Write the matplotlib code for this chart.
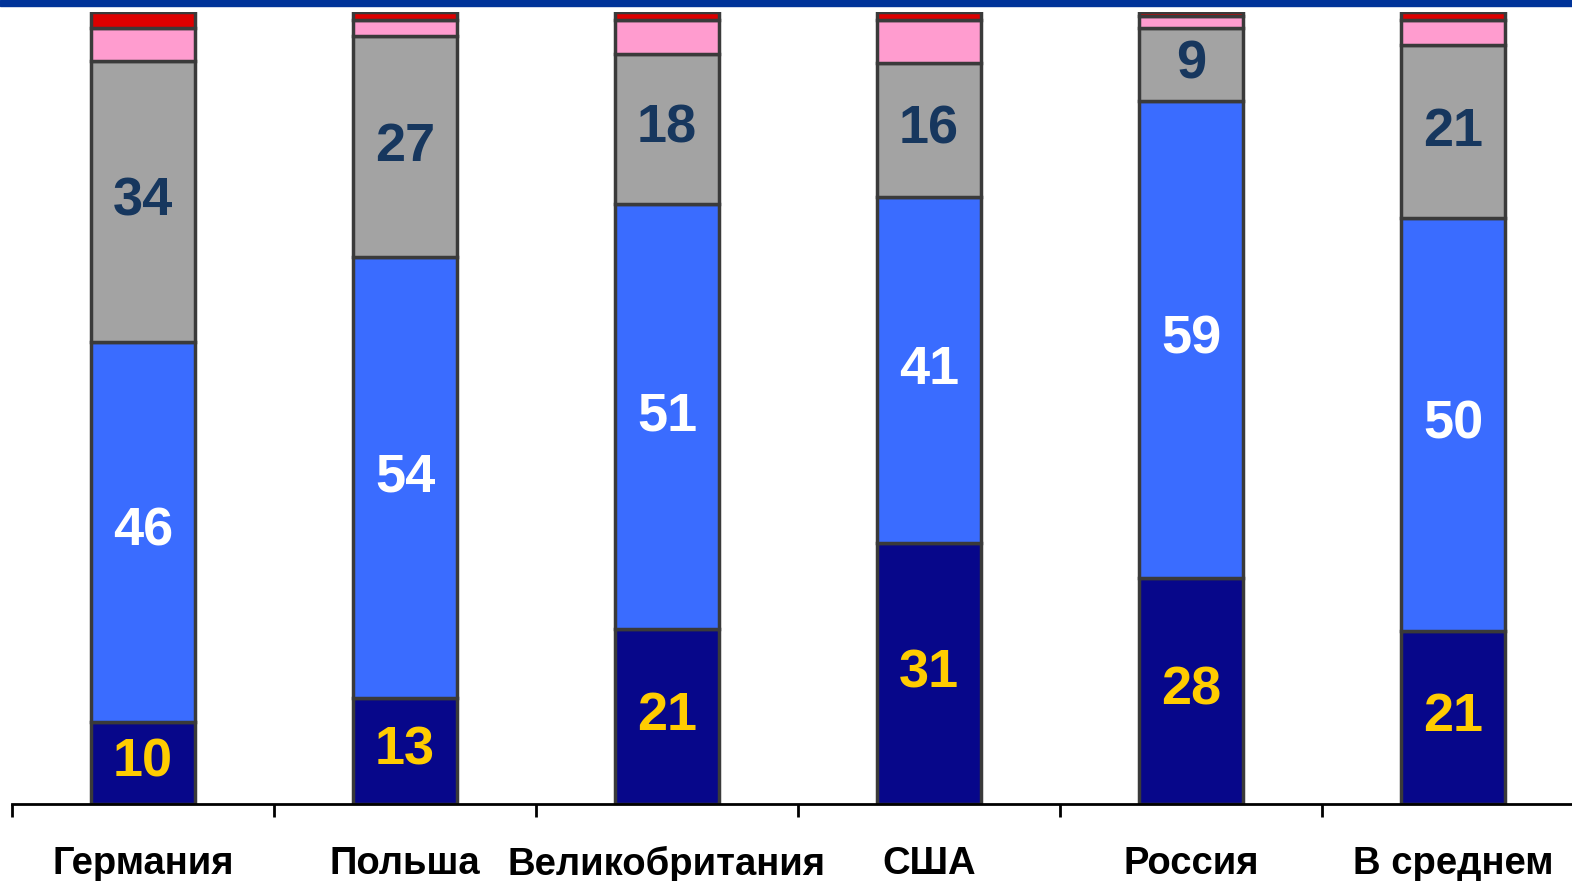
import numpy as np
import matplotlib.pyplot as plt
from matplotlib.patches import Rectangle

plt.rcParams['font.family'] = ['Liberation Sans', 'DejaVu Sans']

countries = ['Германия', 'Польша', 'Великобритания', 'США', 'Россия', 'В среднем']
dark = [10, 13, 21, 31, 28, 21]
blue = [46, 54, 51, 41, 59, 50]
gray = [34, 27, 18, 16, 9, 21]
pink = [4, 2, 4, 5, 1.5, 3]
red = [2, 1, 1, 1, 0.5, 1]

series = [dark, blue, gray, pink, red]
colors = ['#07078a', '#3a6cff', '#a3a3a3', '#ff9ccf', '#dd0000']
txt_colors = ['#ffcc00', 'white', '#17375e', None, None]

data = np.array(series, dtype=float)
shares = data / data.sum(axis=0) * 100

fig = plt.figure(figsize=(15.72, 8.81), dpi=100)
# axes runs a bit past the right edge, as in the original slide
ax = fig.add_axes([12 / 1572, 77 / 881, 1572 / 1572, 792 / 881])

x = np.arange(len(countries))
bottom = np.zeros(len(countries))
for i, s in enumerate(shares):
    ax.bar(x, s, 0.4, bottom=bottom, color=colors[i], edgecolor='#3a3a3a', linewidth=2.5)
    if txt_colors[i]:
        for j in range(len(x)):
            ax.text(x[j], bottom[j] + s[j] / 2, str(series[i][j]), ha='center', va='center',
                    fontsize=39, fontweight='bold', color=txt_colors[i])
    bottom += s

ax.set_xlim(-0.5, len(countries) - 0.5)
ax.set_ylim(0, 100)
for sp in ['top', 'right', 'left']:
    ax.spines[sp].set_visible(False)
ax.spines['bottom'].set_linewidth(2)
ax.set_yticks([])
ax.set_xticks(x)
ax.set_xticklabels(countries, fontsize=27.5, fontweight='bold')
ax.tick_params(axis='x', which='major', length=0, pad=30)
ax.set_xticks(np.arange(-0.5, len(countries)), minor=True)
ax.tick_params(axis='x', which='minor', length=9, width=2, direction='out')

# blue band on top of the slide
fig.patches.append(Rectangle((0, 1 - 6 / 881), 1, 6 / 881, transform=fig.transFigure,
                             color='#003399', zorder=5))

fig.savefig('out.png', dpi=100)
